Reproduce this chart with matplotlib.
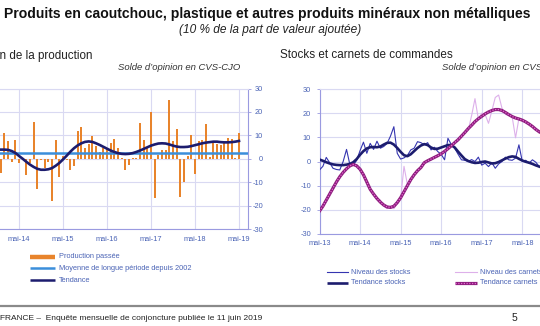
import numpy as np
import pandas as pd
import matplotlib
matplotlib.use("Agg")
import matplotlib.pyplot as plt
from matplotlib.lines import Line2D

plt.rcParams['font.family'] = ['Liberation Sans', 'DejaVu Sans']

# ---------------- data ----------------
tick_labels = ["mai-13", "mai-14", "mai-15", "mai-16", "mai-17", "mai-18", "mai-19"]
y_ticks = [30, 20, 10, 0, -10, -20, -30]

# Left chart: production passée (monthly, Dec 2013 -> May 2019)
prod_start = "2013-12"
production_passee = [
    -5.9,
    11, 7.4, -1.6, 8, -2, 0.5, -7, -2, 15.6, -12.8, -0.5, -4,
    -1.5, -18, 8.2, -8, 1, -0.5, -4.7, -3, 11.7, 13.4, 4.6, 6.5,
    9.6, 5.3, 3, 4.5, 4.5, 6.7, 8.4, 4.6, 0.3, -4.7, -2.6, 0.2,
    0.3, 15.3, 8.1, 4.6, 20, -16.9, 1.7, 3.9, 3.9, 25, 7.4, 12.7,
    -16.4, -10, 1, 10.3, -6.6, 7.7, 8.1, 15, 0.7, 6.7, 6.4, 6,
    7, 8.9, 8.6, 0.3, 11,
]
tendance_prod = [
    3.9,
    3.9, 3.8, 3.3, 2.5, 1.2, 0, -1.3, -2.5, -3.5, -4.3, -4.7, -4.7,
    -4.5, -4.0, -3.0, -1.8, -0.3, 1.3, 3.0, 4.5, 5.7, 6.6, 7.2, 7.4,
    7.2, 6.6, 5.9, 5.1, 4.3, 3.5, 2.9, 2.4, 2.1, 2.0, 2.1, 2.4,
    2.9, 3.5, 4.2, 4.9, 5.6, 6.1, 6.5, 6.6, 6.5, 6.1, 5.6, 5.2,
    5.0, 5.0, 5.1, 5.4, 5.8, 6.2, 6.6, 6.9, 7.1, 7.3, 7.3, 7.1,
    7.0, 7.0, 7.1, 7.3, 7.6,
]
moyenne_longue = 2.4

# Right chart: stocks & carnets (monthly, May 2013 -> Oct 2018)
stock_start = "2013-05"
niveau_stocks = [
    -3.5, -2, 1.7, -0.5, -2.8, -3.3, -3.5, 0, 5, -1.4, -1.5, 0.5,
    4.5, 8, 3.4, 7.5, 5, 8.4, 5.5, 6.2, 7.5, 10.5, 14.4, 3.4,
    1, 1.5, 2.5, 4.8, 5.5, 8.2, 7.8, 6.9, 7.8, 4.8, 5.9, 4.1,
    3, 0.7, 9.6, 7, 5.5, 3, 0.7, 0.5, 0, 0.8, 0, 1.8,
    -1.5, -0.7, -2.1, -0.5, -2.8, -1, 0, 1.8, 0.7, 0.5, 1.4, 6.9,
    0, 0.5, -0.7, 0.7, -0.3, -2.1,
]
tendance_stocks = [
    0.8, 0.3, -0.3, -0.8, -1.2, -1.4, -1.5, -1.5, -1.3, -1.0, -0.3, 1.0,
    2.8, 4.3, 5.4, 5.9, 6.0, 5.9, 6.2, 7.0, 7.7, 7.8, 7.0, 5.6,
    4.0, 2.6, 2.2, 3.0, 4.3, 5.6, 6.6, 7.2, 6.8, 5.8, 5.2, 5.3,
    5.8, 6.3, 6.8, 6.8, 5.8, 4.1, 2.5, 1.0, 0.2, -0.3, -0.6, -0.5,
    -0.2, 0.0, -0.4, -0.8, -0.7, -0.2, 0.5, 1.2, 1.8, 2.1, 1.9, 1.1,
    0.4, -0.1, -0.5, -1.0, -1.6, -2.1,
]
niveau_carnets = [
    -21, -18, -16.5, -13, -11.5, -8, -6.8, -4, -3.5, -1.5, -1.5, -1.3,
    -3.8, -5, -9, -11, -14, -15.5, -16, -18.5, -19.5, -18.5, -19.5, -17.5,
    -15.5, -2, -9.5, -8, -5, -4, -2, -1, 0.5, 0.5, 2, 2,
    3.5, 4, 5.5, 7, 7.5, 9.5, 10, 12.5, 13, 19, 26, 17.5,
    20, 19.5, 15.8, 21, 26.5, 27.5, 22, 19.5, 19, 18.5, 9.8, 17.8,
    17, 16, 15.5, 14.5, 13, 12.5,
]
tendance_carnets = [
    -20.5, -18.5, -16, -13.5, -11, -8.5, -6.3, -4.5, -3, -1.8, -1.2, -1.8,
    -3.2, -5.5, -8.5, -11.5, -13.5, -15.3, -16.8, -18, -18.8, -19, -18.5, -17,
    -15, -12.5, -10, -7.5, -5.5, -3.8, -2.5, -0.5, 0.3, 1, 1.7, 2.4,
    3.2, 4.2, 5.3, 6.5, 7.8, 9, 10.5, 12, 13.6, 15, 16.5, 17.7,
    18.7, 19.7, 20.5, 21.1, 21.5, 21.5, 21.1, 20.3, 19.4, 18.6, 18, 17.6,
    17.1, 16.4, 15.5, 14.5, 13.3, 12.3,
]

# ---------------- helpers ----------------
origin = pd.Period("2013-05", freq="M")


def month_index(start, n):
    p = pd.period_range(start=start, periods=n, freq="M")
    return np.array([(q - origin).n for q in p])


W, H = 540, 326
fig = plt.figure(figsize=(W / 100, H / 100), dpi=100)

ORANGE = "#E8842C"
AVG_BLUE = "#3B8EDB"
NAVY = "#1C1C6E"
STOCK_BLUE = "#3535B0"
PINK = "#DDB0EA"
PURPLE = "#8E1D7E"
DOTS = "#E36BD0"
GRID = "#D9D9F2"
SPINE = "#9A9AE0"
TXT = "#4A63B5"


def px(x0, y0, x1, y1):
    return [x0 / W, 1 - y1 / H, (x1 - x0) / W, (y1 - y0) / H]


def style_axes(ax, tick_idx):
    ax.set_ylim(-30, 30)
    ax.set_yticks(y_ticks)
    ax.set_yticklabels([str(v) for v in y_ticks])
    ax.set_xticks([12 * i for i in tick_idx])
    ax.set_xticklabels([tick_labels[i] for i in tick_idx])
    ax.grid(True, color=GRID, linewidth=0.8)
    ax.set_axisbelow(True)
    for s in ax.spines.values():
        s.set_visible(False)
    ax.tick_params(colors=TXT, labelsize=5.3, length=2, width=0.6)
    for t in ax.get_xticklabels() + ax.get_yticklabels():
        t.set_color(TXT)


# ---------------- left chart ----------------
ppm_l = 44 / 12.0
xl0, xl1 = 0.0, 74.4
left_px = 19 - 12 * ppm_l
axL = fig.add_axes(px(left_px, 88.5, left_px + (xl1 - xl0) * ppm_l, 229))
style_axes(axL, [1, 2, 3, 4, 5, 6])
axL.set_xlim(xl0, xl1)
xm = month_index(prod_start, len(production_passee))
axL.bar(xm, production_passee, width=0.55, color=ORANGE, linewidth=0, zorder=2)
axL.axhline(moyenne_longue, color=AVG_BLUE, linewidth=1.8, zorder=3)
axL.plot(xm, tendance_prod, color=NAVY, linewidth=1.9, zorder=4)
axL.spines['right'].set_visible(True)
axL.spines['right'].set_color(SPINE)
axL.spines['bottom'].set_visible(True)
axL.spines['bottom'].set_color(SPINE)
axL.spines['top'].set_visible(True)
axL.spines['top'].set_color(GRID)
axL.yaxis.tick_right()
axL.tick_params(axis='y', pad=9, colors=SPINE)
for t in axL.get_yticklabels():
    t.set_horizontalalignment('right')
    t.set_color(TXT)
axL.tick_params(axis='x', pad=5, length=0)

# ---------------- right chart ----------------
ppm_r = 3.38
xr0, xr1 = 0.0, 74.4
axR = fig.add_axes(px(319.5, 89, 319.5 + (xr1 - xr0) * ppm_r, 234))
style_axes(axR, [0, 1, 2, 3, 4, 5])
axR.set_xlim(xr0, xr1)
xs = month_index(stock_start, len(niveau_stocks))
axR.plot(xs, niveau_carnets, color=PINK, linewidth=0.8, zorder=2)
axR.plot(xs, niveau_stocks, color=STOCK_BLUE, linewidth=0.8, zorder=3)
axR.plot(xs, tendance_stocks, color=NAVY, linewidth=1.9, zorder=4)
axR.plot(xs, tendance_carnets, color=PURPLE, linewidth=2.3, zorder=5)
axR.plot(xs, tendance_carnets, color=DOTS, linewidth=0.9,
         linestyle=(0, (1, 1.2)), zorder=6)
axR.spines['left'].set_visible(True)
axR.spines['left'].set_color(SPINE)
axR.spines['bottom'].set_visible(True)
axR.spines['bottom'].set_color(SPINE)
axR.spines['top'].set_visible(True)
axR.spines['top'].set_color(GRID)
axR.tick_params(axis='y', pad=4, colors=SPINE)
for t in axR.get_yticklabels():
    t.set_color(TXT)
axR.tick_params(axis='x', pad=4, length=0)

# ---------------- texts ----------------
fig.text(0.495, 1 - 14 / H,
         "Produits en caoutchouc, plastique et autres produits minéraux non métalliques",
         ha='center', va='center', fontsize=10.1, fontweight='bold', color='#111111')
fig.text(0.5, 1 - 30 / H, "(10 % de la part de valeur ajoutée)",
         ha='center', va='center', fontsize=8.6, style='italic', color='#222222')
fig.text(92 / W, 1 - 55 / H, "Évolution de la production", ha='right', va='center',
         fontsize=8.4, color='#222222')
fig.text(280 / W, 1 - 55 / H, "Stocks et carnets de commandes", ha='left', va='center',
         fontsize=8.4, color='#222222')
fig.text(240 / W, 1 - 67 / H, "Solde d’opinion en CVS-CJO", ha='right', va='center',
         fontsize=6.8, style='italic', color='#333333')
fig.text(442 / W, 1 - 67 / H, "Solde d’opinion en CVS-CJO", ha='left', va='center',
         fontsize=6.8, style='italic', color='#333333')


# ---------------- legends ----------------
def leg_line(x0, x1, y, **kw):
    fig.add_artist(Line2D([x0 / W, x1 / W], [1 - y / H, 1 - y / H],
                          transform=fig.transFigure, **kw))


def leg_text(x, y, s):
    fig.text(x / W, 1 - y / H, s, ha='left', va='center', fontsize=5.3, color=TXT)


leg_line(30, 55, 256.5, color=ORANGE, linewidth=3.2, solid_capstyle='butt')
leg_text(59, 256.5, "Production passée")
leg_line(30, 55, 268, color=AVG_BLUE, linewidth=1.8, solid_capstyle='butt')
leg_text(59, 268, "Moyenne de longue période depuis 2002")
leg_line(30, 55, 280, color=NAVY, linewidth=1.8, solid_capstyle='butt')
leg_text(59, 280, "Tendance")

leg_line(327, 348, 272, color=STOCK_BLUE, linewidth=0.8)
leg_text(351, 272, "Niveau des stocks")
leg_line(327, 348, 283, color=NAVY, linewidth=1.9, solid_capstyle='butt')
leg_text(351, 283, "Tendance stocks")
leg_line(455, 477, 272, color=PINK, linewidth=0.8)
leg_text(480, 272, "Niveau des carnets")
leg_line(455, 477, 283, color=PURPLE, linewidth=2.3, solid_capstyle='butt')
leg_line(455, 477, 283, color=DOTS, linewidth=0.9, linestyle=(0, (1, 1.2)))
leg_text(480, 283, "Tendance carnets")

# ---------------- footer ----------------
leg_line(0, 540, 306, color='#8A8A8A', linewidth=1.6)
fig.text(0, 1 - 318 / H, "FRANCE –  Enquête mensuelle de conjoncture publiée le 11 juin 2019",
         ha='left', va='center', fontsize=6.0, color='#222222')
fig.text(514 / W, 1 - 318 / H, "5", ha='center', va='center', fontsize=7.5, color='#222222')

fig.savefig("out.png", dpi=100, facecolor='white')
